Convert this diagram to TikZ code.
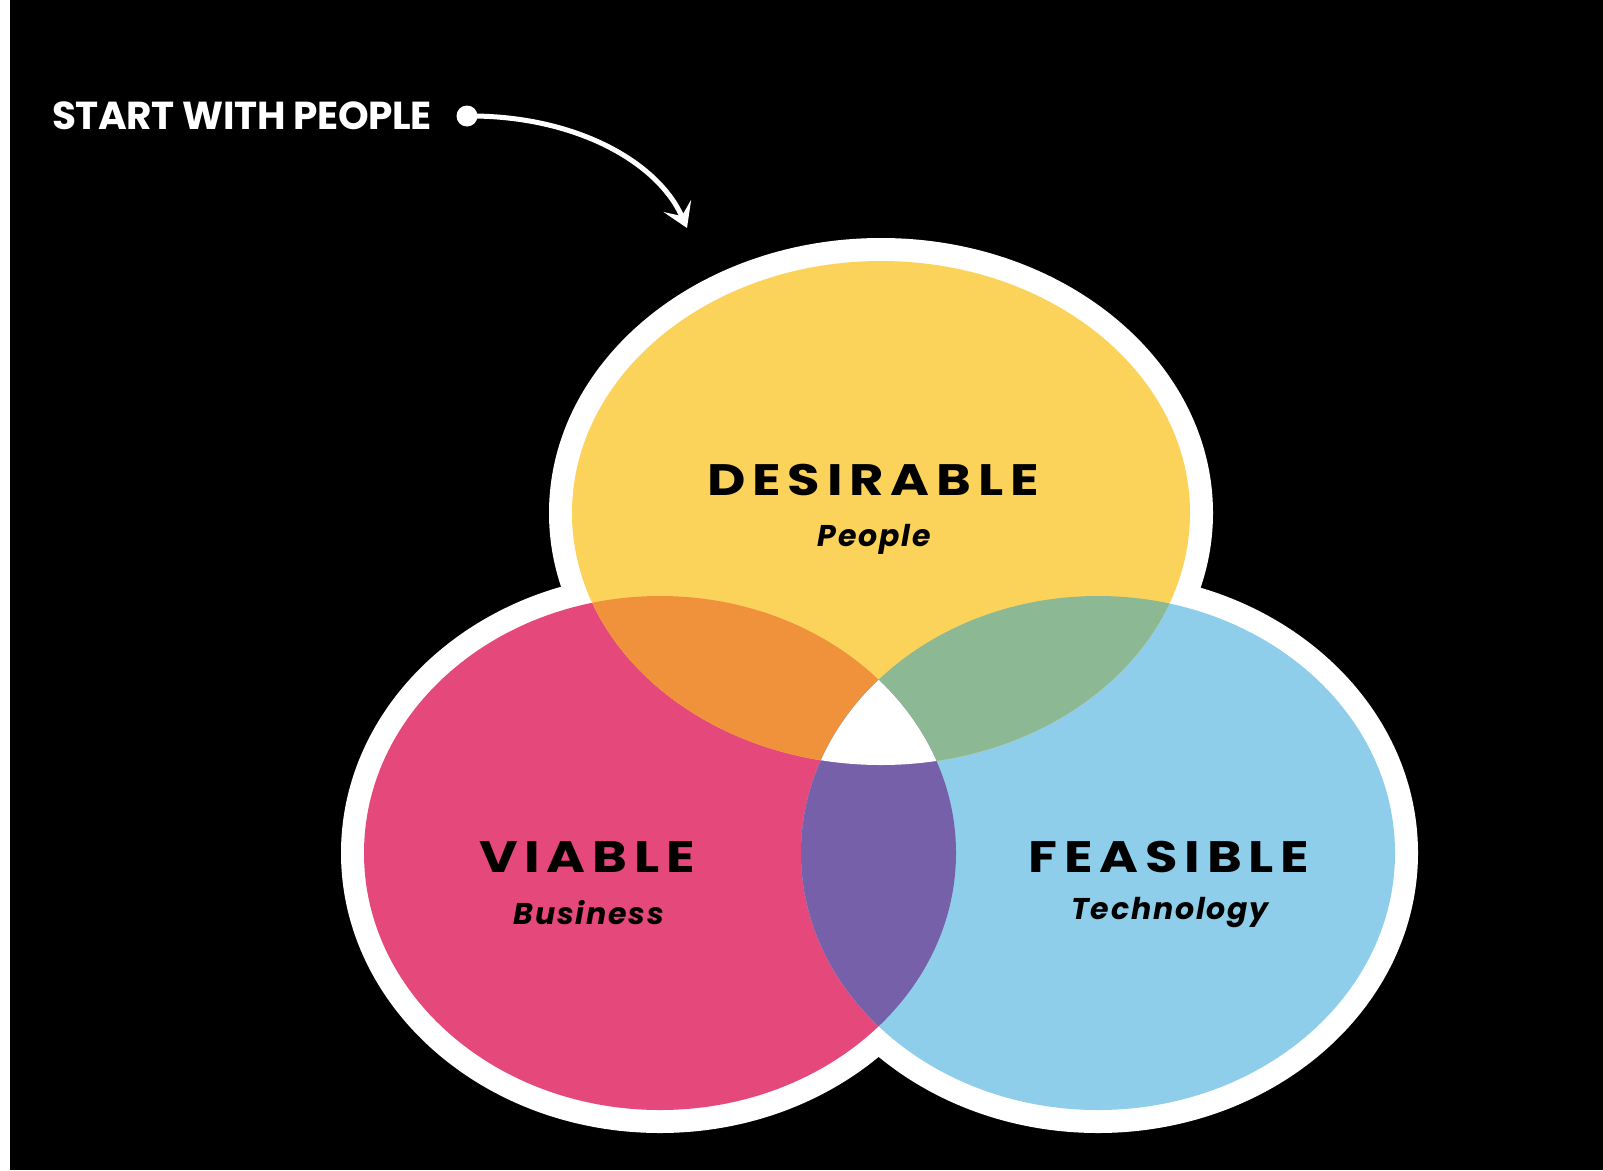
\documentclass[tikz,border=0pt]{standalone}
\usepackage{fontspec}
\setmainfont{Poppins}
\usetikzlibrary{arrows.meta}
\definecolor{cyel}{HTML}{FCD35A}
\definecolor{cpink}{HTML}{E5487A}
\definecolor{cblue}{HTML}{8ECEEA}
\definecolor{corange}{HTML}{F0913C}
\definecolor{cgreen}{HTML}{8DB894}
\definecolor{cpurple}{HTML}{7660AA}
\tikzset{
  bigword/.style={text=black, inner sep=0pt, font=\fontsize{44}{50}\selectfont\bfseries\addfontfeatures{FakeStretch=1.2,LetterSpace=15.5}},
  subword/.style={text=black, inner sep=0pt, font=\fontsize{30}{36}\selectfont\bfseries\itshape\addfontfeatures{LetterSpace=6}},
  startlabel/.style={text=white, inner sep=0pt, anchor=west, font=\fontsize{39}{46}\selectfont\bfseries\addfontfeatures{LetterSpace=-1}},
  arrowline/.style={white, line width=5pt, -{Stealth[length=24pt,width=30pt,inset=11pt]}},
}
\begin{document}
\begin{tikzpicture}[x=1pt,y=-1pt]
\useasboundingbox (0,0) rectangle (1603,1170);
\fill[black] (0,0) rectangle (1603,1170);
\fill[white] (0,0) rectangle (10,1170);
% white outline
\fill[white] (881,513) ellipse [x radius=332pt, y radius=275pt];
\fill[white] (660,853) ellipse [x radius=319pt, y radius=280pt];
\fill[white] (1098,853) ellipse [x radius=320pt, y radius=280pt];
% circles
\fill[cpink] (660,853) ellipse [x radius=296pt, y radius=257pt];
\fill[cblue] (1098,853) ellipse [x radius=297pt, y radius=257pt];
\fill[cyel] (881,513) ellipse [x radius=309pt, y radius=252pt];
% overlaps
\begin{scope}
  \clip (881,513) ellipse [x radius=309pt, y radius=252pt];
  \fill[corange] (660,853) ellipse [x radius=296pt, y radius=257pt];
  \fill[cgreen] (1098,853) ellipse [x radius=297pt, y radius=257pt];
\end{scope}
\begin{scope}
  \clip (660,853) ellipse [x radius=296pt, y radius=257pt];
  \fill[cpurple] (1098,853) ellipse [x radius=297pt, y radius=257pt];
  \clip (881,513) ellipse [x radius=309pt, y radius=252pt];
  \fill[white] (1098,853) ellipse [x radius=297pt, y radius=257pt];
\end{scope}
% labels
\node[bigword] (des) at (873,480) {DESIRABLE};
\node[subword] (desp) at (874,539) {People};
\node[bigword] (via) at (587,857) {VIABLE};
\node[subword] (viab) at (589,913) {Business};
\node[bigword] (fea) at (1169,857) {FEASIBLE};
\node[subword] (feat) at (1170,913) {Technology};
% start
\node[startlabel] (start) at (52,116) {START WITH PEOPLE};
\node[circle, fill=white, minimum size=21pt, inner sep=0pt] (dot) at (467,116) {};
\coordinate (tip) at (687,228);
\draw[arrowline] (dot.center) .. controls (575,115) and (658,162) .. (tip);
\end{tikzpicture}
\end{document}
